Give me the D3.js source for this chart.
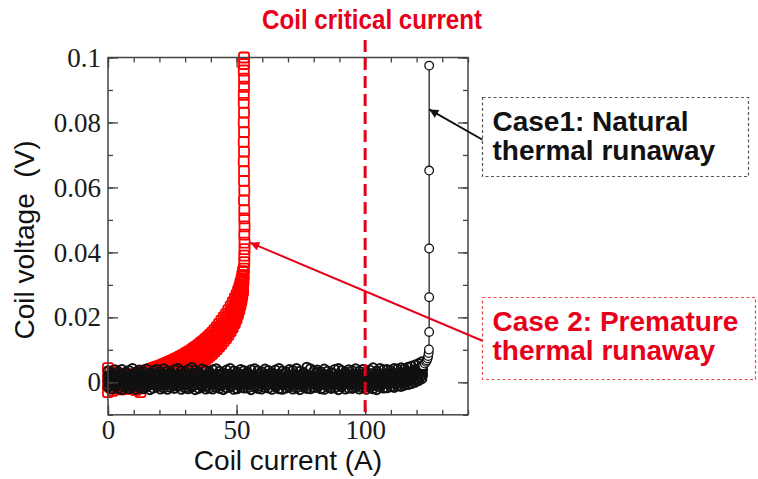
<!DOCTYPE html>
<html><head><meta charset="utf-8">
<script src="https://cdn.jsdelivr.net/npm/d3@7"></script>
<style>
html,body{margin:0;padding:0;background:#fff;}
svg{display:block;}
</style></head><body>
<svg id="chart" width="758" height="479"></svg>
<script>
// ---- axis ticks ----
const xTickValues = [0, 50, 100];
const xTickLabels = ["0", "50", "100"];
const xMinorTicks = [0, 10, 20, 30, 40, 50, 60, 70, 80, 90, 100, 110, 120, 130, 140];
const yTickValues = [0, 20, 40, 60, 80, 100];            // mV
const yTickLabels = ["0", "0.02", "0.04", "0.06", "0.08", "0.1"];
const yMinorTicks = [-10, 0, 10, 20, 30, 40, 50, 60, 70, 80, 90, 100];

// ---- Case 1: natural thermal runaway (current in A, voltage in mV), repeated sweeps ----
const blackCurrent = [0.0,1.3,2.7,4.0,5.4,6.8,8.1,9.5,10.9,12.2,13.6,14.9,16.3,17.6,19.0,20.4,21.7,23.1,24.4,25.8,
  27.1,28.5,29.9,31.2,32.6,33.9,35.3,36.6,38.0,39.4,40.7,42.1,43.4,44.8,46.1,47.5,48.9,50.2,51.6,52.9,
  54.3,55.6,57.0,58.3,59.7,61.1,62.4,63.8,65.1,66.5,67.8,69.2,70.6,71.9,73.3,74.6,76.0,77.3,78.7,80.1,
  81.4,82.8,84.1,85.5,86.8,88.2,89.6,90.9,92.3,93.6,95.0,96.3,97.7,99.1,100.4,101.8,103.1,104.5,105.8,107.2,
  108.5,109.9,111.3,112.6,114.0,115.3,116.7,118.0,119.4,120.8,122.1];
// sweeps whose current readings fall between the ones above
const blackCurrentAlt = [0.7,2.0,3.4,4.7,6.1,7.5,8.8,10.2,11.6,12.9,14.3,15.6,17.0,18.3,19.7,21.1,22.4,23.8,25.1,26.5,
  27.8,29.2,30.6,31.9,33.3,34.6,36.0,37.3,38.7,40.1,41.4,42.8,44.1,45.5,46.8,48.2,49.6,50.9,52.3,53.6,
  55.0,56.3,57.7,59.0,60.4,61.8,63.1,64.5,65.8,67.2,68.5,69.9,71.3,72.6,74.0,75.3,76.7,78.0,79.4,80.8,
  82.1,83.5,84.8,86.2,87.5,88.9,90.3,91.6,93.0,94.3,95.7,97.0,98.4,99.8,101.1,102.5,103.8,105.2,106.5,107.9,
  109.2,110.6,112.0,113.3,114.7,116.0,117.4,118.7,120.1,121.5,122.4];
const blackVoltageA = [3.6,3.0,3.9,3.3,4.0,3.1,3.7,4.3,3.2,3.8,3.4,4.1,2.9,3.7,4.0,3.3,4.2,3.5,3.0,3.9,
  4.3,3.6,3.2,4.0,4.6,3.8,3.1,4.1,3.7,3.3,3.9,4.2,3.4,3.0,3.8,4.3,3.5,3.2,4.0,3.6,
  3.1,3.9,4.2,3.6,3.3,4.1,3.7,3.0,3.8,4.3,3.5,3.2,4.0,3.7,4.3,3.4,3.1,4.7,4.2,3.6,
  3.8,3.3,4.1,3.5,3.0,4.0,4.3,3.7,3.2,3.9,3.6,4.2,3.4,4.0,3.3,3.8,4.5,3.5,4.3,3.9,
  4.0,3.7,4.3,4.1,4.5,4.2,4.7,5.0,5.4,5.8,6.4];
const blackVoltageE = [2.0,2.6,1.7,2.4,2.1,2.8,1.6,2.3,2.7,1.9,2.5,1.8,2.2,2.7,1.6,2.4,2.0,2.8,2.3,1.7,
  2.1,2.6,1.9,2.3,2.8,1.6,2.5,2.0,2.2,2.7,1.8,2.4,2.7,2.0,2.5,1.7,2.3,2.6,1.9,2.8,
  2.3,1.9,2.1,2.6,1.8,2.5,2.8,2.0,2.4,1.6,2.7,2.2,1.8,2.5,2.1,2.4,2.6,1.9,2.0,2.8,
  1.9,2.5,2.3,1.7,2.8,2.0,2.2,2.6,2.4,1.8,2.6,2.0,2.4,2.2,1.8,2.7,1.9,2.5,2.3,2.6,
  2.4,2.8,2.5,3.0,2.7,3.3,3.1,3.6,4.0,4.5,5.2];
const blackVoltageB = [1.9,1.2,2.1,1.4,1.7,2.0,1.0,1.6,1.9,1.3,1.5,2.0,1.8,1.1,1.7,1.9,1.3,2.1,1.6,1.4,
  2.0,1.2,1.7,2.1,1.5,1.0,1.8,1.9,1.4,2.1,1.3,1.8,2.0,1.5,1.2,2.1,1.7,1.4,1.9,1.6,
  2.1,1.5,1.0,1.8,2.0,1.3,1.7,2.1,1.2,1.6,1.4,1.9,1.6,2.1,1.3,1.8,2.0,1.1,1.7,1.5,
  2.0,1.6,1.3,1.9,1.8,1.2,1.5,2.1,2.0,1.4,1.7,1.3,2.1,1.6,1.9,1.5,1.2,1.8,2.0,2.1,
  1.8,2.2,1.9,2.4,2.1,2.7,2.5,3.0,3.4,3.9,4.5];
const blackVoltageF = [0.5,1.1,0.3,0.9,0.6,1.3,0.2,0.8,1.2,0.4,1.0,0.3,0.7,1.3,0.5,0.9,0.2,1.1,0.6,0.8,
  0.4,1.2,0.9,0.3,1.0,0.6,1.3,0.5,0.8,1.1,0.7,0.2,1.1,0.8,0.4,1.2,0.6,0.9,0.3,1.0,
  1.2,0.6,0.9,0.3,1.1,0.5,0.8,1.3,0.4,0.7,0.3,0.9,1.2,0.6,0.8,0.2,1.0,0.7,1.3,0.5,
  0.9,0.4,0.7,1.2,0.3,1.0,0.6,0.2,0.8,1.1,0.6,1.1,0.4,0.9,1.3,0.7,0.5,1.0,0.8,1.2,
  1.0,0.8,1.3,1.1,1.6,1.4,1.9,2.2,2.7,3.2,3.8];
const blackVoltageC = [0.4,-0.2,0.6,-0.4,0.1,0.5,-0.3,0.2,-0.5,0.3,-0.1,0.6,-0.4,0.2,0.5,-0.2,0.0,0.4,-0.5,0.3,
  0.5,-0.3,0.1,0.6,-0.2,0.3,-0.4,0.2,0.0,0.5,-0.2,0.4,0.1,-0.5,0.6,0.0,0.3,-0.3,0.5,-0.1,
  0.2,-0.4,0.5,0.1,-0.2,0.6,-0.3,0.0,0.4,-0.1,0.6,0.0,-0.3,0.4,0.2,-0.5,0.5,-0.1,0.3,0.1,
  -0.3,0.5,0.2,-0.1,0.6,-0.4,0.1,0.4,-0.2,0.3,0.1,-0.2,0.5,0.3,-0.4,0.6,0.0,-0.3,0.4,0.2,
  0.5,0.2,0.7,0.4,1.0,0.8,1.3,1.6,2.0,2.5,3.0];
const blackVoltageG = [-0.9,-0.3,-1.1,-0.5,-0.8,-0.2,-1.0,-0.6,-0.4,-1.2,-0.5,-1.0,-0.2,-0.8,-1.1,-0.4,-0.7,-0.1,-0.9,-0.6,
  -1.1,-0.4,-0.7,-0.2,-1.0,-0.5,-0.9,-0.3,-1.2,-0.6,-0.3,-0.8,-1.0,-0.4,-0.6,-1.1,-0.2,-0.9,-0.5,-0.7,
  -0.8,-0.2,-0.6,-1.2,-0.4,-0.9,-0.1,-0.7,-1.0,-0.3,-0.6,-1.1,-0.3,-0.8,-0.5,-1.0,-0.4,-0.9,-0.2,-0.7,
  -1.0,-0.5,-0.9,-0.3,-0.7,-0.2,-1.1,-0.6,-0.4,-0.8,-0.4,-0.9,-0.6,-1.1,-0.2,-0.7,-1.0,-0.5,-0.8,-0.3,
  -0.5,-0.2,-0.6,-0.1,-0.3,0.1,0.4,0.7,1.1,1.6,2.2];
const blackVoltageD = [-1.5,-2.1,-1.3,-1.9,-2.3,-1.6,-2.0,-1.4,-2.2,-1.7,-2.0,-1.5,-2.3,-1.8,-1.4,-2.1,-1.7,-2.2,-1.6,-1.9,
  -1.3,-2.2,-1.7,-2.0,-1.5,-2.3,-1.9,-1.4,-2.1,-1.8,-2.1,-1.6,-1.9,-2.3,-1.7,-1.4,-2.2,-2.0,-1.5,-1.8,
  -1.7,-2.3,-1.5,-1.9,-2.1,-1.6,-1.8,-2.2,-1.4,-2.0,-2.2,-1.8,-1.4,-2.1,-1.7,-2.3,-1.5,-1.9,-2.0,-1.6,
  -1.6,-2.0,-2.2,-1.5,-1.9,-1.7,-2.3,-1.4,-2.1,-1.8,-1.9,-1.5,-2.1,-1.7,-2.2,-1.6,-2.0,-2.3,-1.5,-1.8,
  -1.7,-1.4,-1.6,-1.2,-1.3,-0.9,-0.7,-0.4,0.0,0.5,1.1];
const blackTailCurrent = [122.6,123.2,123.7,124.0,124.3,124.5,124.7,124.8,124.9,124.9,124.9,124.9,124.9];
const blackTailVoltage = [5.2,5.8,6.3,6.8,7.4,8.1,9.0,10.1,15.5,26.2,41.2,65.2,97.5];

// ---- Case 2: premature thermal runaway (current in A, voltage in mV), repeated sweeps ----
const redCurrent = [0.0,0.9,1.8,2.7,3.6,4.5,5.4,6.3,7.2,8.1,9.0,9.9,10.8,11.7,12.6,13.5,14.4,15.3,16.2,17.1,
  18.0,18.9,19.8,20.7,21.6,22.5,23.4,24.3,25.2,26.1,27.0,27.9,28.8,29.7,30.6,31.5,32.4,33.3,34.2,35.1,
  36.0,36.9,37.8,38.7,39.6,40.5,41.4,42.3,43.2,44.1,45.0,45.9,46.8,47.7,48.5,49.3,50.0,50.6,51.1,51.5,
  51.9,52.2,52.5];
const redVoltageU = [4.4,3.0,2.2,3.5,1.8,2.4,1.6,2.1,1.5,2.0,2.2,2.5,2.7,3.0,3.2,3.4,3.6,3.8,4.0,4.3,
  4.5,4.8,5.0,5.3,5.6,5.9,6.2,6.5,6.8,7.2,7.5,7.9,8.3,8.7,9.1,9.5,10.0,10.5,11.0,11.5,
  12.1,12.7,13.3,13.9,14.6,15.3,16.1,17.0,18.0,19.0,20.0,21.0,22.2,23.4,24.6,25.8,27.0,28.2,29.4,30.6,
  31.8,33.0,34.2];
const redVoltageM1 = [1.5,0.8,1.2,0.4,1.0,0.6,1.3,0.5,0.9,1.1,0.9,1.2,1.4,1.3,1.7,1.9,2.0,2.5,2.5,2.9,
  3.0,3.3,3.4,3.8,3.9,4.4,4.5,4.9,5.0,5.5,5.6,6.1,6.3,6.8,6.9,7.5,7.8,8.4,8.6,9.3,
  9.6,10.3,10.6,11.4,11.8,12.6,13.2,14.1,14.8,15.9,16.6,17.8,18.6,19.9,20.8,22.2,23.2,24.6,25.6,27.0,
  28.0,29.6,30.8];
const redVoltageM2 = [-0.6,-1.0,-0.3,-1.2,-0.5,-0.9,-0.2,-0.8,-0.4,-0.7,-0.3,-0.6,0.0,-0.2,0.3,0.1,0.6,0.5,1.0,1.0,
  1.5,1.5,2.0,2.0,2.5,2.5,3.0,3.1,3.6,3.7,4.2,4.3,4.9,5.0,5.6,5.7,6.4,6.5,7.2,7.4,
  8.1,8.3,9.1,9.4,10.2,10.6,11.5,12.0,13.0,13.6,14.6,15.3,16.5,17.3,18.8,19.7,21.4,22.5,24.1,25.3,
  26.8,28.0,29.4];
const redVoltageL = [-3.0,-1.5,-2.6,-0.8,-2.0,-1.2,-2.2,-1.0,-1.8,-1.3,-2.0,-1.1,-2.4,-1.6,-3.0,-1.2,-0.8,-0.6,-0.4,-0.2,
  0.0,0.2,0.4,0.6,0.8,1.0,1.2,1.4,1.7,2.0,2.3,2.6,2.9,3.2,3.5,3.9,4.3,4.7,5.1,5.5,
  6.0,6.5,7.0,7.6,8.2,8.8,9.5,10.2,11.0,11.8,12.7,13.6,14.6,15.7,16.9,18.2,19.6,21.0,22.4,23.8,
  25.2,26.6,28.0];
// sweeps logged from 12.6 A onward
const redCurrentLate = [12.6,13.5,14.4,15.3,16.2,17.1,18.0,18.9,19.8,20.7,21.6,22.5,23.4,24.3,25.2,26.1,27.0,27.9,28.8,29.7,
  30.6,31.5,32.4,33.3,34.2,35.1,36.0,36.9,37.8,38.7,39.6,40.5,41.4,42.3,43.2,44.1,45.0,45.9,46.8,47.7,
  48.5,49.3,50.0,50.6,51.1,51.5,51.9,52.2,52.5];
const redVoltageN1 = [2.5,2.6,2.9,3.1,3.3,3.5,3.8,4.0,4.3,4.5,4.8,5.1,5.4,5.8,6.0,6.3,6.6,6.9,7.4,7.7,
  8.1,8.4,8.9,9.2,9.9,10.3,10.9,11.4,12.0,12.6,13.2,13.9,14.7,15.5,16.7,17.4,18.3,19.4,20.4,21.6,
  22.5,24.0,25.1,26.4,27.5,28.8,29.9,31.3,32.5];
const redVoltageN2 = [1.0,1.0,1.3,1.5,1.8,1.9,2.2,2.4,2.7,2.9,3.2,3.4,3.7,4.0,4.5,4.6,4.9,5.2,5.6,5.9,
  6.2,6.6,7.1,7.4,7.9,8.1,8.8,9.3,9.8,10.4,11.0,11.6,12.3,13.0,13.6,14.7,15.6,16.5,17.5,18.6,
  19.8,21.2,22.3,23.5,24.8,26.1,27.4,28.8,30.1];
const redVoltageN3 = [-1.2,-0.6,-0.1,0.0,0.3,0.4,0.7,0.9,1.2,1.3,1.6,1.8,2.1,2.3,2.4,2.9,3.2,3.5,3.9,4.1,
  4.5,4.8,5.3,5.6,6.1,6.7,7.0,7.4,8.0,8.5,9.2,9.7,10.5,11.1,11.7,12.7,13.6,14.4,15.5,16.5,
  18.1,18.9,20.5,21.7,23.2,24.5,26.0,27.3,28.7];
const redTailCurrent = [52.7,52.8,52.9,53.0,53.0,53.1,53.1,53.0,53.1,53.0,53.0,52.9,53.0,52.9,52.9,52.8,52.9,52.8,52.9,52.8,
  52.9,52.8,52.8,52.9,52.9,52.8,52.9,52.9];
const redTailVoltage = [31,33,35,37,39,41,43,45.5,48,50.5,53,56,59,62,65,68,71,74,77,80,
  83,86,88.5,91,93.5,96,98,100];

// ---- drawing ----
const svg = d3.select("#chart");
const x = d3.scaleLinear().domain([0, 140]).range([108, 468]);
const y = d3.scaleLinear().domain([-10, 100]).range([414.8, 57.5]);

const RED = "#ff0000";
const RED_TEXT = "#e8001a";
const AXIS = "#444";

const pairs = (xs, ys) => ys.map((v, i) => [xs[i], v]).filter(d => d[0] !== undefined);

const defs = svg.append("defs");
const plot = svg.append("g");

// Case 2 squares (underneath Case 1)
const redSeries = [
  pairs(redCurrent, redVoltageL), pairs(redCurrentLate, redVoltageN3),
  pairs(redCurrent, redVoltageM2), pairs(redCurrentLate, redVoltageN2),
  pairs(redCurrent, redVoltageM1), pairs(redCurrentLate, redVoltageN1),
  pairs(redCurrent, redVoltageU), pairs(redTailCurrent, redTailVoltage)
];
plot.append("g").selectAll("g").data(redSeries).join("g")
  .selectAll("rect").data(d => d).join("rect")
  .attr("x", d => x(d[0]) - 5).attr("y", d => y(d[1]) - 5)
  .attr("width", 10).attr("height", 10).attr("rx", 2)
  .attr("fill", "none").attr("stroke", RED).attr("stroke-width", 1.8);

// Case 1 circles
const blackSeries = [
  pairs(blackCurrent, blackVoltageA), pairs(blackCurrentAlt, blackVoltageE),
  pairs(blackCurrent, blackVoltageB), pairs(blackCurrentAlt, blackVoltageF),
  pairs(blackCurrent, blackVoltageC), pairs(blackCurrentAlt, blackVoltageG),
  pairs(blackCurrent, blackVoltageD)
];
plot.append("g").selectAll("g").data(blackSeries).join("g")
  .selectAll("circle").data(d => d).join("circle")
  .attr("cx", d => x(d[0])).attr("cy", d => y(d[1])).attr("r", 4.4)
  .attr("fill", "none").attr("stroke", "#111").attr("stroke-width", 2);

const tail = pairs(blackTailCurrent, blackTailVoltage);
plot.append("path").datum(tail)
  .attr("d", d3.line().x(d => x(d[0])).y(d => y(d[1])))
  .attr("fill", "none").attr("stroke", "#333").attr("stroke-width", 1.4);
plot.append("g").selectAll("circle").data(tail).join("circle")
  .attr("cx", d => x(d[0])).attr("cy", d => y(d[1])).attr("r", 4.3)
  .attr("fill", "#fff").attr("stroke", "#111").attr("stroke-width", 1.3);

// ---- axes: ticks point inward on all four sides ----
function styleAxis(g) {
  g.select(".domain").remove();
  g.selectAll("line").attr("stroke", AXIS).attr("stroke-width", 1.3);
  g.attr("font-family", "'Liberation Serif', 'Times New Roman', serif").attr("font-size", 27);
  g.selectAll("text").attr("fill", "#1a1a1a");
}
const yB = y(-10), yT = y(100), xL = x(0), xR = x(140);

svg.append("g").attr("transform", `translate(0,${yB})`)
  .call(d3.axisBottom(x).tickValues(xMinorTicks).tickSize(-5).tickFormat("")).call(styleAxis);
svg.append("g").attr("transform", `translate(0,${yB})`)
  .call(d3.axisBottom(x).tickValues(xTickValues).tickSize(-10).tickPadding(5)
    .tickFormat((d, i) => xTickLabels[i])).call(styleAxis);
svg.append("g").attr("transform", `translate(0,${yT})`)
  .call(d3.axisTop(x).tickValues(xMinorTicks).tickSize(-5).tickFormat("")).call(styleAxis);
svg.append("g").attr("transform", `translate(0,${yT})`)
  .call(d3.axisTop(x).tickValues(xTickValues).tickSize(-10).tickFormat("")).call(styleAxis);

svg.append("g").attr("transform", `translate(${xL},0)`)
  .call(d3.axisLeft(y).tickValues(yMinorTicks).tickSize(-5).tickFormat("")).call(styleAxis);
svg.append("g").attr("transform", `translate(${xL},0)`)
  .call(d3.axisLeft(y).tickValues(yTickValues).tickSize(-10).tickPadding(7)
    .tickFormat((d, i) => yTickLabels[i])).call(styleAxis);
svg.append("g").attr("transform", `translate(${xR},0)`)
  .call(d3.axisRight(y).tickValues(yMinorTicks).tickSize(-5).tickFormat("")).call(styleAxis);
svg.append("g").attr("transform", `translate(${xR},0)`)
  .call(d3.axisRight(y).tickValues(yTickValues).tickSize(-10).tickFormat("")).call(styleAxis);

svg.append("rect").attr("x", xL).attr("y", yT).attr("width", xR - xL).attr("height", yB - yT)
  .attr("fill", "none").attr("stroke", AXIS).attr("stroke-width", 1.5);

// axis titles
svg.append("text").attr("x", x(70)).attr("y", 470).attr("text-anchor", "middle")
  .attr("font-family", "'Liberation Sans', Arial, sans-serif").attr("font-size", 28).attr("fill", "#111")
  .text("Coil current (A)");
svg.append("text").attr("transform", `translate(34,240) rotate(-90)`).attr("text-anchor", "middle")
  .attr("font-family", "'Liberation Sans', Arial, sans-serif").attr("font-size", 28).attr("fill", "#111")
  .style("white-space", "pre").text("Coil voltage  (V)");

// critical current marker
const criticalCurrent = 100;
svg.append("line").attr("x1", x(criticalCurrent)).attr("x2", x(criticalCurrent)).attr("y1", 40).attr("y2", yB)
  .attr("stroke", RED_TEXT).attr("stroke-width", 3).attr("stroke-dasharray", "12,6");
svg.append("text").attr("x", 262).attr("y", 29)
  .attr("textLength", 220).attr("lengthAdjust", "spacingAndGlyphs")
  .attr("font-family", "'Liberation Sans', Arial, sans-serif").attr("font-weight", "bold").attr("font-size", 27)
  .attr("fill", RED_TEXT).text("Coil critical current");

// callouts
function arrowMarker(id, color) {
  defs.append("marker").attr("id", id).attr("viewBox", "0 0 10 10").attr("refX", 10).attr("refY", 5)
    .attr("markerWidth", 10).attr("markerHeight", 9).attr("markerUnits", "userSpaceOnUse").attr("orient", "auto")
    .append("path").attr("d", "M0,0 L10,5 L0,10 z").attr("fill", color);
}
arrowMarker("arrowBlack", "#111");
arrowMarker("arrowRed", RED_TEXT);

function callout(bx, by, bw, bh, lines, color, border, from, to, marker) {
  svg.append("line").attr("x1", from[0]).attr("y1", from[1]).attr("x2", to[0]).attr("y2", to[1])
    .attr("stroke", color).attr("stroke-width", 2).attr("marker-end", `url(#${marker})`);
  svg.append("rect").attr("x", bx).attr("y", by).attr("width", bw).attr("height", bh)
    .attr("fill", "#fff").attr("stroke", border).attr("stroke-width", 1.2).attr("stroke-dasharray", "3,2.5");
  svg.append("text").attr("font-family", "'Liberation Sans', Arial, sans-serif").attr("font-weight", "bold")
    .attr("font-size", 28).attr("fill", color)
    .selectAll("tspan").data(lines).join("tspan")
    .attr("x", bx + 10).attr("y", (d, i) => by + 33 + i * 29).text(d => d);
}
callout(482.5, 97.5, 266, 79, ["Case1: Natural", "thermal runaway"], "#111", "#555",
  [483, 140], [x(124.9), y(84)], "arrowBlack");
callout(482.5, 297.5, 273, 82, ["Case 2: Premature", "thermal runaway"], RED_TEXT, "#e85050",
  [483, 341], [x(55.3), y(43)], "arrowRed");
</script>
</body></html>
